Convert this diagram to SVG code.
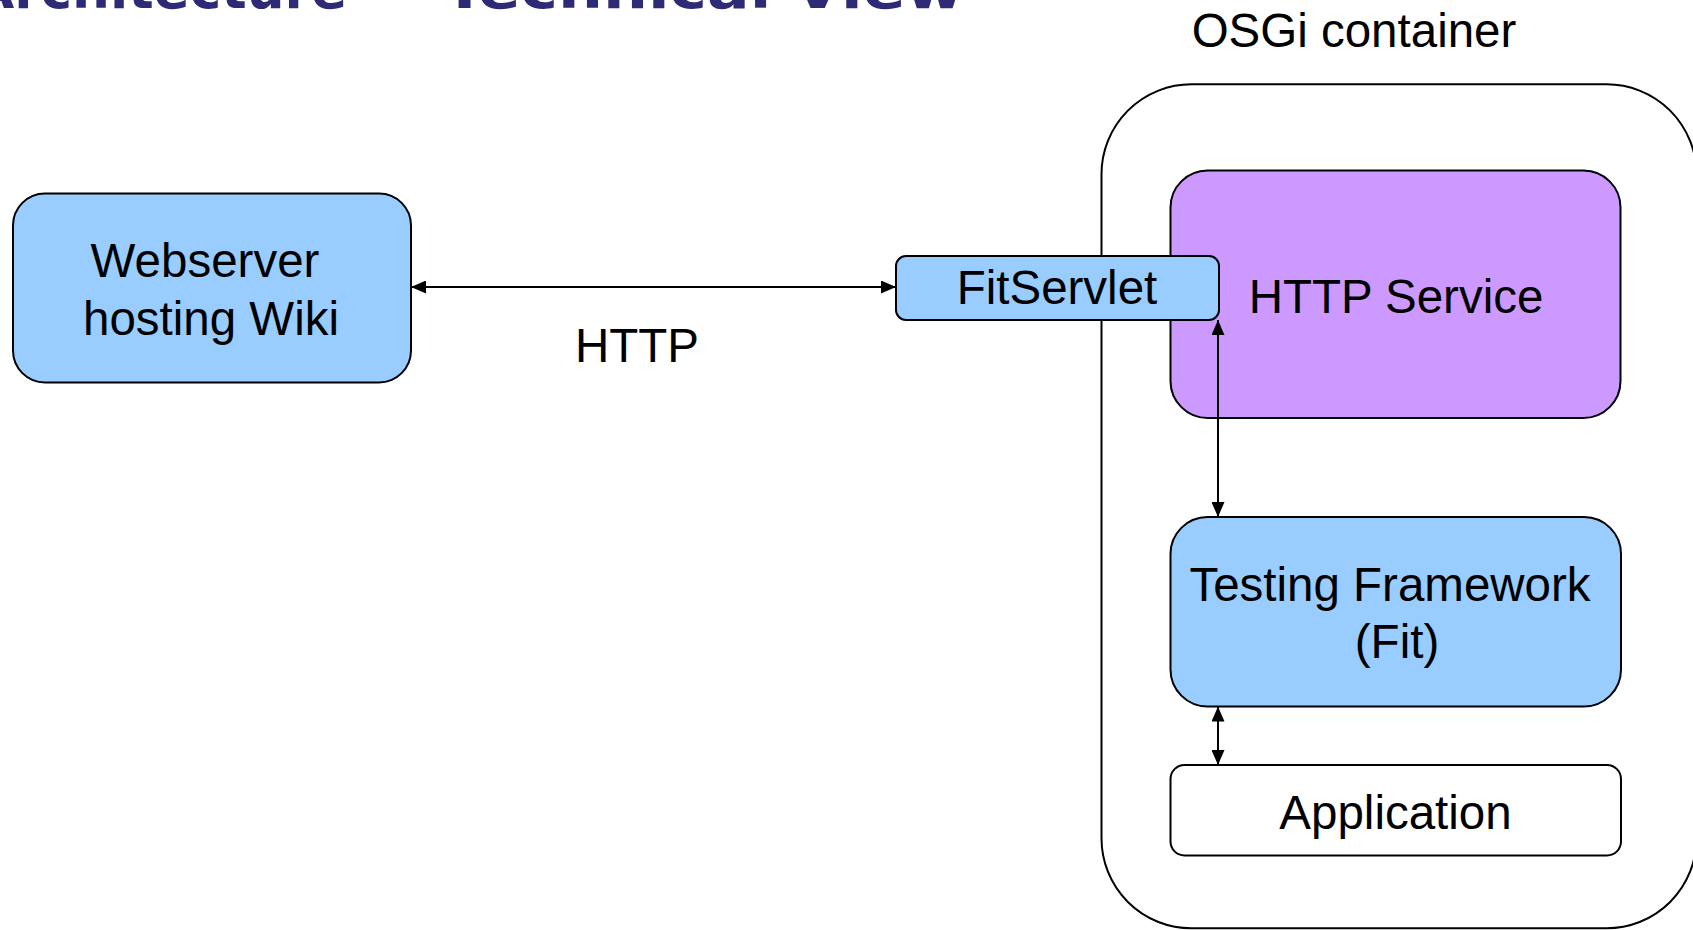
<svg xmlns="http://www.w3.org/2000/svg" width="1693" height="930" viewBox="0 0 1693 930">
<style>
text{font-family:"Liberation Sans",Arial,sans-serif;font-size:47.5px;fill:#000;text-anchor:middle}
.title{font-family:"DejaVu Sans",Verdana,sans-serif;font-weight:bold;font-size:54px;fill:#2E2A75;text-anchor:start}
.box{stroke:#000;stroke-width:2}
.blue{fill:#99CCFF}
.purple{fill:#CC99FF}
.white{fill:#FFFFFF}
.conn{stroke:#000;stroke-width:2;fill:none;marker-start:url(#ah);marker-end:url(#ah)}
</style>
<defs>
<marker id="ah" markerUnits="userSpaceOnUse" markerWidth="15" markerHeight="13" refX="15" refY="6.5" orient="auto-start-reverse">
<path d="M0,0 L15,6.5 L0,13 z" fill="#000"/>
</marker>
</defs>
<rect width="1693" height="930" fill="#fff"/>
<g id="title">
<text class="title" x="-27" y="8" textLength="374" lengthAdjust="spacingAndGlyphs">Architecture</text>
<text class="title" x="443" y="8" textLength="521" lengthAdjust="spacingAndGlyphs">Technical View</text>
</g>
<g id="osgi-container">
<rect class="box white" x="1101.5" y="84.3" width="595" height="844" rx="90" ry="90"/>
<text x="1354" y="46.5">OSGi container</text>
</g>
<g id="webserver">
<rect class="box blue" x="13" y="193.5" width="398" height="189" rx="32" ry="32"/>
<text x="205" y="277">Webserver</text>
<text x="211" y="335">hosting Wiki</text>
</g>
<g id="http-service">
<rect class="box purple" x="1170.5" y="170.5" width="450" height="247.5" rx="37" ry="37"/>
<text x="1396" y="313">HTTP Service</text>
</g>
<g id="testing-framework">
<rect class="box blue" x="1170.5" y="517" width="450.5" height="189.5" rx="37" ry="37"/>
<text x="1390" y="600.5">Testing Framework</text>
<text x="1397" y="658">(Fit)</text>
</g>
<g id="application">
<rect class="box white" x="1170.5" y="765" width="450.5" height="90.5" rx="14" ry="14"/>
<text x="1395.5" y="829">Application</text>
</g>
<g id="connectors">
<line class="conn" x1="411" y1="287" x2="896" y2="287"/>
<text x="637" y="362">HTTP</text>
<line class="conn" x1="1218" y1="320" x2="1218" y2="517"/>
<line class="conn" x1="1218" y1="706.5" x2="1218" y2="765"/>
</g>
<g id="fitservlet">
<rect class="box blue" x="896" y="256" width="323" height="64" rx="10" ry="10"/>
<text x="1057" y="304">FitServlet</text>
</g>
</svg>
